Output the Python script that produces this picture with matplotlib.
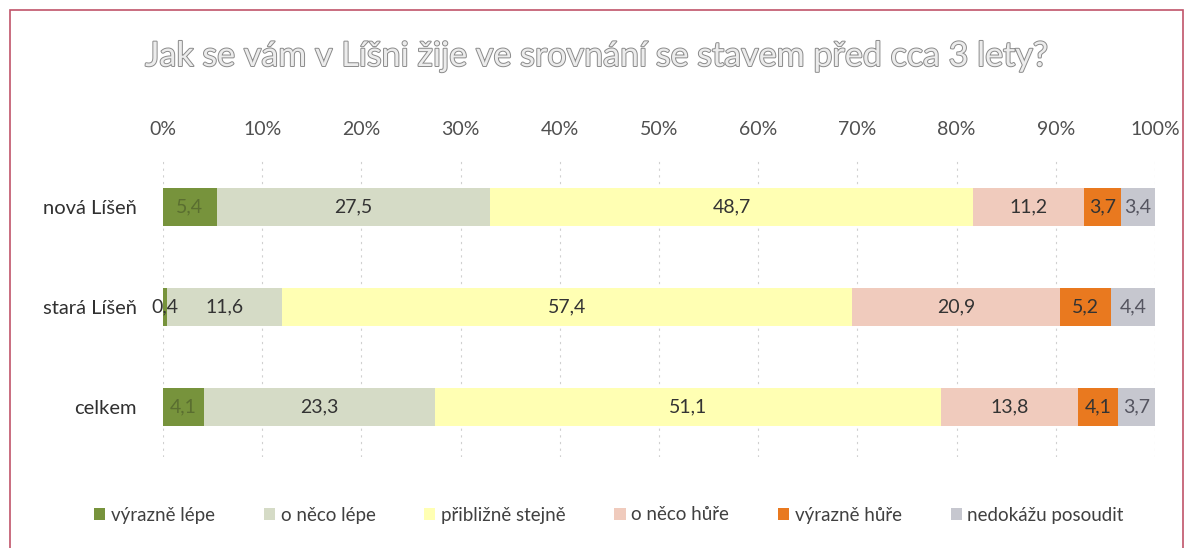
import numpy as np
import matplotlib.pyplot as plt
import matplotlib.patheffects as pe
from matplotlib.patches import Rectangle

plt.rcParams['font.family'] = ['Lato', 'DejaVu Sans']

# data
categories = ['nová Líšeň', 'stará Líšeň', 'celkem']
series_names = ['výrazně lépe', 'o něco lépe', 'přibližně stejně', 'o něco hůře', 'výrazně hůře', 'nedokážu posoudit']
vyrazne_lepe = [5.4, 0.4, 4.1]
neco_lepe = [27.5, 11.6, 23.3]
stejne = [48.7, 57.4, 51.1]
neco_hure = [11.2, 20.9, 13.8]
vyrazne_hure = [3.7, 5.2, 4.1]
nedokazu = [3.4, 4.4, 3.7]
ticks = [0, 10, 20, 30, 40, 50, 60, 70, 80, 90, 100]

colors = ['#77933c', '#d5dbc6', '#ffffb3', '#f0cbbd', '#e9791f', '#c6c7cf']
label_colors = ['#5a6e30', '#333333', '#333333', '#333333', '#333333', '#555560']

values = np.array([vyrazne_lepe, neco_lepe, stejne, neco_hure, vyrazne_hure, nedokazu])
# 100% stacked
pct = values / values.sum(axis=0) * 100

fig = plt.figure(figsize=(11.94, 5.48), dpi=100)
ax = fig.add_axes([163/1194, 1 - 457/548, (1155-163)/1194, 300/548])

y = np.arange(len(categories))
left = np.zeros(len(categories))
for i in range(len(series_names)):
    ax.barh(y, pct[i], left=left, height=0.38, color=colors[i], label=series_names[i], zorder=2)
    for j in range(len(categories)):
        txt = f"{values[i][j]:.1f}".replace('.', ',')
        # tiny segment: label sits mostly outside the bar, keep it dark
        c = label_colors[i] if pct[i][j] > 1 else '#333333'
        ax.text(left[j] + pct[i][j]/2, y[j], txt, ha='center', va='center',
                fontsize=14, color=c, zorder=3)
    left = left + pct[i]

ax.set_xlim(0, 100)
ax.set_ylim(2.5, -0.5)
ax.set_xticks(ticks)
ax.set_xticklabels([f"{t}%" for t in ticks], fontsize=14, color='#505050')
ax.xaxis.tick_top()
ax.tick_params(axis='x', length=0, pad=14)
ax.set_yticks(y)
ax.set_yticklabels(categories, fontsize=14.5, color='#303030')
ax.tick_params(axis='y', length=0, pad=19)
ax.grid(axis='x', linestyle=(0, (2, 4)), color='#d0d0d0', linewidth=0.8, zorder=0)
for s in ax.spines.values():
    s.set_visible(False)

fig.text(0.5, 1 - 56/548, 'Jak se vám v Líšni žije ve srovnání se stavem před cca 3 lety?',
         ha='center', va='center', fontsize=24.5, color='#ececec',
         path_effects=[pe.withStroke(linewidth=1.4, foreground='#8a8a8a')])

ax.legend(loc='center', bbox_to_anchor=(0.51, (548-515)/548), bbox_transform=fig.transFigure,
          ncol=6, frameon=False, fontsize=13.5, handlelength=0.6, handleheight=0.6,
          handletextpad=0.3, columnspacing=2.6, labelcolor='#404040')

# outer frame
fig.patches.append(Rectangle((10/1194, -0.01), (1183-10)/1194, 1 - 10/548 + 0.01,
                             transform=fig.transFigure, fill=False,
                             edgecolor='#c0546a', linewidth=1.2))

fig.savefig('out.png', dpi=100, facecolor='white')
